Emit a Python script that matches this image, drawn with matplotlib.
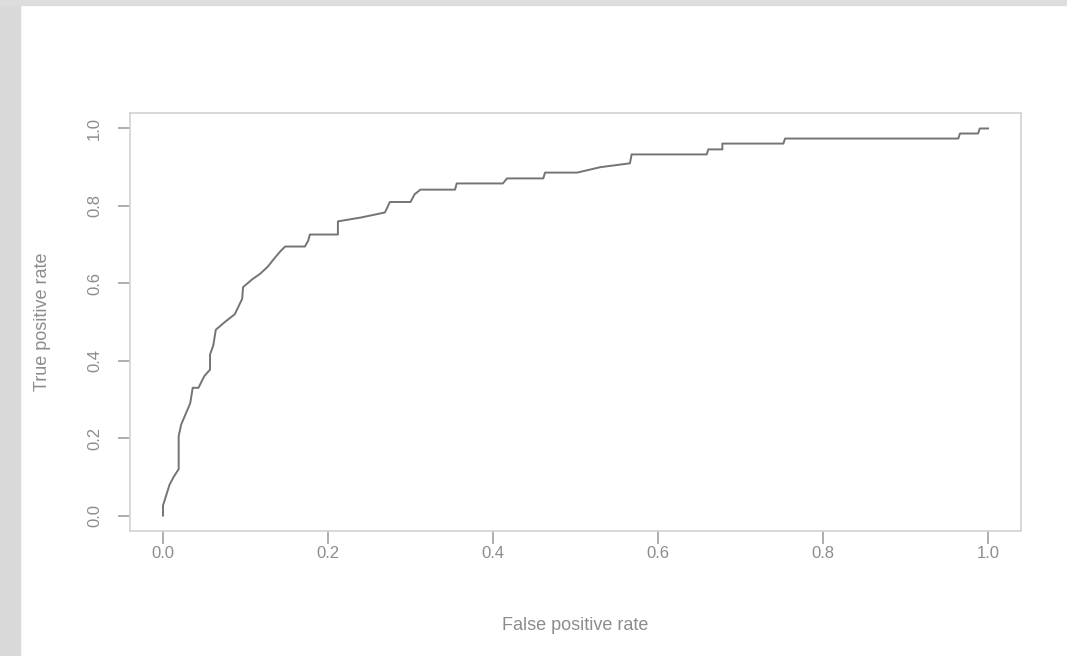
import numpy as np
import matplotlib
matplotlib.use("Agg")
import matplotlib.pyplot as plt
from matplotlib.patches import Rectangle

# ROC curve points
fpr = [0.0, 0.0, 0.008, 0.013, 0.019, 0.019, 0.022, 0.027, 0.033, 0.036,
       0.043, 0.05, 0.057, 0.057, 0.061, 0.064, 0.075, 0.087, 0.096, 0.097,
       0.108, 0.118, 0.127, 0.136, 0.142, 0.148, 0.172, 0.176, 0.178, 0.212,
       0.212, 0.24, 0.269, 0.275, 0.30, 0.305, 0.312, 0.354, 0.356, 0.412,
       0.417, 0.461, 0.463, 0.502, 0.53, 0.566, 0.568, 0.659, 0.661, 0.678,
       0.678, 0.752, 0.754, 0.964, 0.966, 0.988, 0.99, 1.0]
tpr = [0.0, 0.026, 0.08, 0.10, 0.12, 0.205, 0.235, 0.26, 0.29, 0.33,
       0.33, 0.36, 0.377, 0.416, 0.44, 0.48, 0.50, 0.52, 0.56, 0.59,
       0.61, 0.625, 0.643, 0.667, 0.682, 0.695, 0.695, 0.71, 0.726, 0.726,
       0.76, 0.77, 0.783, 0.81, 0.81, 0.83, 0.842, 0.842, 0.858, 0.858,
       0.871, 0.871, 0.886, 0.886, 0.90, 0.91, 0.933, 0.933, 0.946, 0.946,
       0.961, 0.961, 0.974, 0.974, 0.987, 0.987, 1.0, 1.0]

ticks = [0.0, 0.2, 0.4, 0.6, 0.8, 1.0]
tick_labels = ["0.0", "0.2", "0.4", "0.6", "0.8", "1.0"]

plt.rcParams['font.family'] = ['Liberation Sans', 'DejaVu Sans']
txt = '#8c8c8c'

fig = plt.figure(figsize=(10.67, 6.56), dpi=100)
# grey slide border (left and top strips)
fig.patches.append(Rectangle((0, 0), 20 / 1067, 1, transform=fig.transFigure,
                             color='#d9d9d9', zorder=0))
fig.patches.append(Rectangle((0, 1 - 5 / 656), 1, 5 / 656, transform=fig.transFigure,
                             color='#dddddd', zorder=0))

ax = fig.add_axes([130 / 1067, 1 - 531 / 656, 891 / 1067, 418 / 656])
ax.plot(fpr, tpr, color='#747474', linewidth=1.4)
ax.set_xlim(-0.04, 1.04)
ax.set_ylim(-0.04, 1.04)

for s in ax.spines.values():
    s.set_color('#d2d2d2')
    s.set_linewidth(1.2)

ax.set_xticks(ticks)
ax.set_xticklabels(tick_labels)
ax.set_yticks(ticks)
ax.set_yticklabels(tick_labels, rotation=90, va='center')
ax.tick_params(axis='both', direction='out', length=9, width=1.2,
               color='#a0a0a0', labelcolor=txt, labelsize=12)
ax.tick_params(axis='x', pad=2)
ax.tick_params(axis='y', pad=11)

ax.set_xlabel("False positive rate", color=txt, fontsize=13, labelpad=40)
ax.set_ylabel("True positive rate", color=txt, fontsize=13, labelpad=26)

fig.savefig("out.png", dpi=100)
